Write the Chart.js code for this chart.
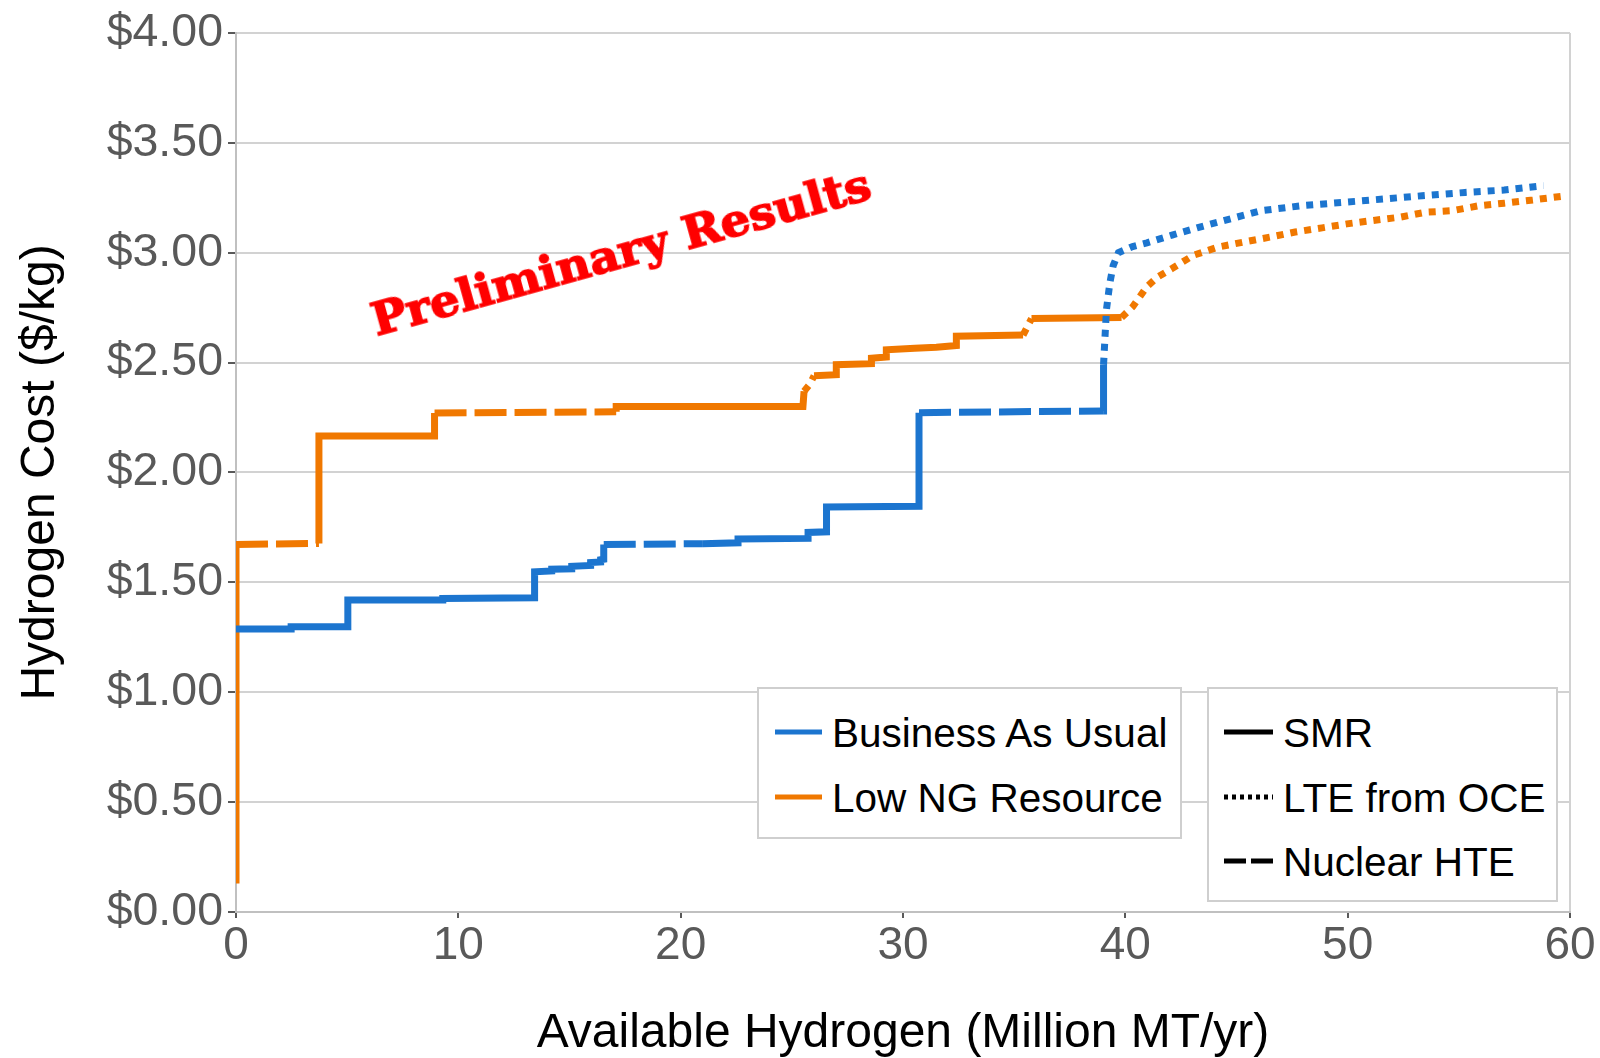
<!DOCTYPE html>
<html><head><meta charset="utf-8">
<script src="https://cdn.jsdelivr.net/npm/chart.js@4.4.1/dist/chart.umd.min.js"></script>
<style>
html,body{margin:0;padding:0;background:#fff;}
#wrap{position:relative;width:1600px;height:1058px;overflow:hidden;font-family:"Liberation Sans",Arial,sans-serif;}
#c{position:absolute;left:0;top:0;}
.lg{position:absolute;background:#fff;border:2px solid #cfcfcf;box-sizing:border-box;}
.lt{position:absolute;font-size:40.5px;line-height:40px;color:#000;white-space:nowrap;}
.ls{position:absolute;}
#stamp{position:absolute;left:621px;top:252px;white-space:nowrap;font-family:"DejaVu Serif",serif;font-weight:bold;font-size:45px;line-height:45px;color:#ff0000;-webkit-text-stroke:1.6px #ff0000;transform-origin:50% 50%;}
</style></head><body>
<div id="wrap"><canvas id="c" width="1600" height="1058"></canvas></div>
<script>
// ---------- data ----------
const seriesNames = ['Business As Usual', 'Low NG Resource'];
const techNames = ['SMR', 'LTE from OCE', 'Nuclear HTE'];
const techCodes = ['S', 'L', 'H'];
const xTitle = 'Available Hydrogen (Million MT/yr)';
const yTitle = 'Hydrogen Cost ($/kg)';
const xTicks = [0, 10, 20, 30, 40, 50, 60];
const xTickLabels = ['0', '10', '20', '30', '40', '50', '60'];
const yTicks = [0, 0.5, 1, 1.5, 2, 2.5, 3, 3.5, 4];
const yTickLabels = ['$0.00', '$0.50', '$1.00', '$1.50', '$2.00', '$2.50', '$3.00', '$3.50', '$4.00'];
const stampText = 'Preliminary Results';

// Business As Usual
const bauX = [0, 2.48, 2.48, 5.03, 5.03, 9.3, 9.3, 13.43, 13.43, 14.2, 14.2, 15.1, 15.1, 15.95, 15.95, 16.4, 16.4, 16.54, 16.54, 21.0,
  22.58, 22.58, 25.73, 25.73, 26.56, 26.56, 30.72, 30.72, 39.0, 39.02, 39.15, 39.3, 39.45, 39.69, 40.33, 40.97, 42.1, 43.22, 44.43,
  46.11, 47.96, 49.81, 51.58, 53.35, 55.28, 57.04, 58.81];
const bauY = [1.288, 1.288, 1.298, 1.298, 1.42, 1.42, 1.427, 1.43, 1.548, 1.552, 1.56, 1.562, 1.573, 1.577, 1.59, 1.593, 1.603, 1.605, 1.672, 1.676,
  1.68, 1.697, 1.70, 1.727, 1.73, 1.843, 1.846, 2.272, 2.28, 2.49, 2.74, 2.86, 2.94, 3.0, 3.028, 3.045, 3.08, 3.113, 3.146,
  3.191, 3.214, 3.229, 3.244, 3.259, 3.274, 3.285, 3.305];
const bauTech = ['S','S','S','S','S','S','S','S','S','S','S','S','S','S','S','S','S','S','S','H',
  'S','S','S','S','S','S','S','S','H','S','L','L','L','L','L','L','L','L','L',
  'L','L','L','L','L','L','L','L'];

// Low NG Resource
const lowX = [0, 0, 3.73, 3.73, 8.93, 8.93, 17.1, 17.1, 25.5, 25.55, 25.8, 26.0, 27.0, 27.0, 28.58, 28.58, 29.25, 29.25, 30.53, 31.5,
  32.4, 32.4, 35.4, 35.78, 39.83, 40.33, 40.97, 41.46, 42.1, 43.06, 44.19, 45.31, 46.52, 47.64, 48.85, 49.97, 51.1, 52.38, 53.5, 54.71,
  55.92, 57.04, 58.33, 59.75];
const lowY = [0.13, 1.672, 1.677, 2.166, 2.166, 2.271, 2.276, 2.30, 2.30, 2.37, 2.40, 2.44, 2.445, 2.49, 2.495, 2.52, 2.525, 2.558, 2.565, 2.57,
  2.578, 2.62, 2.625, 2.70, 2.705, 2.754, 2.845, 2.89, 2.928, 2.988, 3.026, 3.048, 3.071, 3.094, 3.113, 3.131, 3.146, 3.162, 3.184, 3.191,
  3.214, 3.225, 3.24, 3.258];
const lowTech = ['S','S','H','S','S','S','H','S','S','S','L','L','S','S','S','S','S','S','S','S',
  'S','S','S','L','S','L','L','L','L','L','L','L','L','L','L','L','L','L','L','L',
  'L','L','L','L'];

// ---------- styles ----------
const COLORS = ['#1c75cf', '#f07800'];
const DASH = { S: [], L: [7, 7], H: [32, 8] };
const LEG_DASH = { S: '', L: '4 4', H: '22 5' };
const GRID = '#d2d2d2', AXIS = '#c0c0c0', TICK = '#595959', LABEL = '#595959';
const FAMILY = '"Liberation Sans", Arial, sans-serif';

function mk(label, xs, ys, tech, color) {
  return {
    label,
    data: xs.map((x, i) => ({ x, y: ys[i] })),
    borderColor: color, backgroundColor: color,
    borderWidth: 7, pointRadius: 0, pointHoverRadius: 0, fill: false, clip: 0,
    borderCapStyle: 'butt', borderJoinStyle: 'miter', tension: 0,
    segment: { borderDash: ctx => DASH[tech[ctx.p1DataIndex]] }
  };
}

new Chart(document.getElementById('c'), {
  type: 'line',
  data: { datasets: [mk(seriesNames[0], bauX, bauY, bauTech, COLORS[0]), mk(seriesNames[1], lowX, lowY, lowTech, COLORS[1])] },
  options: {
    responsive: false, animation: false, devicePixelRatio: 1,
    layout: { padding: { top: 28, right: 30, left: 0, bottom: 0 } },
    plugins: { legend: { display: false }, tooltip: { enabled: false } },
    scales: {
      x: {
        type: 'linear', min: 0, max: 60,
        afterBuildTicks: s => { s.ticks = xTicks.map(v => ({ value: v })); },
        afterFit: s => { s.height = 146; },
        grid: { color: c => (c.tick && c.tick.value === 60) ? GRID : 'rgba(0,0,0,0)', lineWidth: 2, tickLength: 6, tickColor: TICK, tickWidth: 2 },
        border: { color: AXIS, width: 2 },
        ticks: { font: { family: FAMILY, size: 46, lineHeight: 1.2 }, color: LABEL, padding: 1, maxRotation: 0, autoSkip: false,
          callback: (v, i) => xTickLabels[i] },
        title: { display: true, text: xTitle, color: '#000', font: { family: FAMILY, size: 48, lineHeight: 1 }, padding: { top: 0, bottom: 0 } }
      },
      y: {
        type: 'linear', min: 0, max: 4,
        afterBuildTicks: s => { s.ticks = yTicks.map(v => ({ value: v })); },
        afterFit: s => { s.width = 236; },
        grid: { color: GRID, lineWidth: 2, tickLength: 8, tickColor: TICK, tickWidth: 2 },
        border: { color: AXIS, width: 2 },
        ticks: { font: { family: FAMILY, size: 46.5, lineHeight: 1.2 }, color: LABEL, padding: 5,
          callback: (v, i) => yTickLabels[i] },
        title: { display: true, text: yTitle, color: '#000', font: { family: FAMILY, size: 48, lineHeight: 1 }, padding: { top: 17, bottom: 0 } }
      }
    }
  }
});

// ---------- legends (HTML text) ----------
const wrap = document.getElementById('wrap');
function box(l, t, w, h) { const d = document.createElement('div'); d.className = 'lg';
  Object.assign(d.style, { left: l + 'px', top: t + 'px', width: w + 'px', height: h + 'px' }); wrap.appendChild(d); }
function sample(x1, x2, cy, color, dash) {
  const ns = 'http://www.w3.org/2000/svg';
  const svg = document.createElementNS(ns, 'svg');
  svg.setAttribute('width', x2 - x1); svg.setAttribute('height', 10); svg.setAttribute('class', 'ls');
  svg.style.left = x1 + 'px'; svg.style.top = (cy - 5) + 'px';
  const ln = document.createElementNS(ns, 'line');
  ln.setAttribute('x1', 0); ln.setAttribute('x2', x2 - x1); ln.setAttribute('y1', 5); ln.setAttribute('y2', 5);
  ln.setAttribute('stroke', color); ln.setAttribute('stroke-width', 5);
  if (dash) ln.setAttribute('stroke-dasharray', dash);
  svg.appendChild(ln); wrap.appendChild(svg);
}
function text(x, capCenter, s) { const d = document.createElement('div'); d.className = 'lt';
  d.textContent = s; d.style.left = x + 'px'; d.style.top = (capCenter - 19.5) + 'px'; wrap.appendChild(d); }

box(757, 687, 425, 152);
const rows1 = [732, 797];
seriesNames.forEach((n, i) => { sample(775, 822, rows1[i], COLORS[i], ''); text(832, rows1[i], n); });
box(1207, 687, 351, 215);
const rows2 = [732, 797, 861];
techNames.forEach((n, i) => { sample(1224, 1273, rows2[i], '#000', LEG_DASH[techCodes[i]]); text(1283, rows2[i], n); });

// ---------- stamp ----------
const st = document.createElement('div'); st.id = 'stamp'; st.textContent = stampText; wrap.appendChild(st);
const w = st.offsetWidth;
st.style.transform = 'translate(-50%,-50%) rotate(-15.5deg) scaleX(' + (516 / w) + ')';
</script>
</body></html>
